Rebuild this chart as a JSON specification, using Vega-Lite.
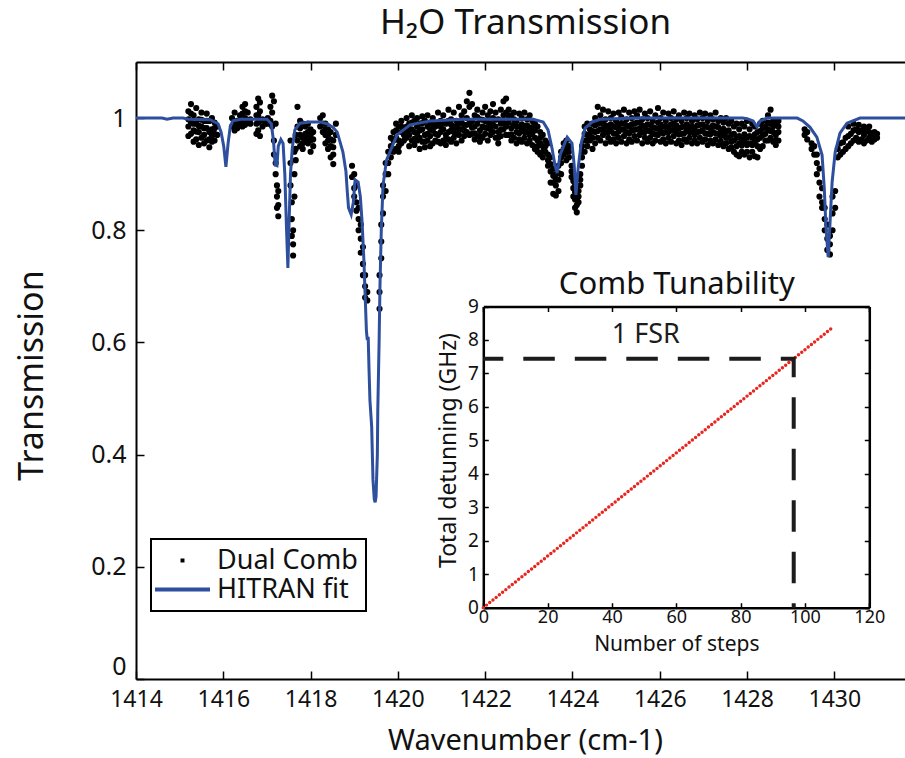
{
  "$schema": "https://vega.github.io/schema/vega-lite/v6.json",
  "width": 769,
  "height": 617,
  "autosize": {"type": "none"},
  "padding": {"left": 136, "top": 62, "right": 0, "bottom": 79},
  "config": {
    "font": "Noto Sans, DejaVu Sans",
    "view": {"stroke": null},
    "axis": {
      "grid": false,
      "labelFlush": false,
      "domainColor": "black",
      "tickColor": "black",
      "labelColor": "#111111",
      "titleColor": "#111111",
      "titleFontWeight": "normal"
    },
    "legend": {"strokeWidth": 2}
  },
  "datasets": {
    "dualComb": [
      {"w":1415.2,"a":1.012,"b":0.985,"c":0.968,"d":0.998},
      {"w":1415.26,"a":1.025,"b":0.992,"c":0.972,"d":1.008},
      {"w":1415.32,"a":1.005,"b":0.978,"c":0.958,"d":0.99},
      {"w":1415.38,"a":1.018,"b":0.99,"c":0.962,"d":0.976},
      {"w":1415.44,"a":0.998,"b":0.975,"c":0.952,"d":0.986},
      {"w":1415.5,"a":1.01,"b":0.985,"c":0.965,"d":0.997},
      {"w":1415.56,"a":0.995,"b":0.97,"c":0.955,"d":0.982},
      {"w":1415.62,"a":1.008,"b":0.982,"c":0.96,"d":0.995},
      {"w":1415.68,"a":0.995,"b":0.975,"c":0.948,"d":0.962},
      {"w":1415.74,"a":1.0,"b":0.98,"c":0.958,"d":0.968},
      {"w":1415.8,"a":0.992,"b":0.972,"c":0.96,"d":0.982},
      {"w":1415.86,"a":0.985,"b":0.97},
      {"w":1416.2,"a":1.0,"b":0.985},
      {"w":1416.26,"a":1.01,"b":0.988,"c":0.978},
      {"w":1416.32,"a":0.995,"b":0.982},
      {"w":1416.38,"a":1.005,"b":0.99},
      {"w":1416.44,"a":1.02,"b":0.995,"c":0.985,"d":1.008},
      {"w":1416.5,"a":1.025,"b":1.0,"c":0.988,"d":1.012},
      {"w":1416.56,"a":1.01,"b":0.992},
      {"w":1416.62,"a":0.998,"b":0.99},
      {"w":1416.76,"a":1.02,"b":0.99,"c":0.972,"d":1.005},
      {"w":1416.8,"a":1.035,"b":1.005,"c":0.978,"d":0.992},
      {"w":1416.84,"a":1.028,"b":0.995,"c":0.968,"d":1.012},
      {"w":1416.9,"a":0.998,"b":0.985},
      {"w":1416.96,"a":0.995,"b":0.99},
      {"w":1417.02,"a":1.0,"b":0.99},
      {"w":1417.08,"a":1.02,"b":0.995},
      {"w":1417.12,"a":1.04,"b":1.01,"c":0.985},
      {"w":1417.16,"a":1.03,"b":0.96,"c":0.935},
      {"w":1417.2,"a":0.99,"b":0.92,"c":0.9},
      {"w":1417.23,"a":0.88,"b":0.86,"c":0.84},
      {"w":1417.26,"a":0.87,"b":0.845,"c":0.825},
      {"w":1417.54,"a":0.96,"b":0.92,"c":0.88},
      {"w":1417.57,"a":0.85,"b":0.82,"c":0.79},
      {"w":1417.6,"a":0.775,"b":0.755,"c":0.8},
      {"w":1417.63,"a":0.86,"b":0.9,"c":0.94},
      {"w":1417.66,"a":0.97,"b":0.945,"c":0.925},
      {"w":1417.7,"a":1.02,"b":0.985,"c":0.96},
      {"w":1417.76,"a":0.995,"b":0.97,"c":0.95,"d":0.982},
      {"w":1417.82,"a":0.99,"b":0.965,"c":0.945,"d":0.955},
      {"w":1417.88,"a":0.985,"b":0.96,"c":0.972},
      {"w":1417.94,"a":0.99,"b":0.975,"c":0.955,"d":0.965},
      {"w":1418.0,"a":0.98,"b":0.96,"c":0.94,"d":0.97},
      {"w":1418.06,"a":0.975,"b":0.95,"c":0.962},
      {"w":1418.22,"a":1.0,"b":0.985},
      {"w":1418.28,"a":1.005,"b":0.99,"c":0.975},
      {"w":1418.34,"a":0.99,"b":0.97,"c":0.955,"d":0.98},
      {"w":1418.4,"a":0.98,"b":0.96,"c":0.945,"d":0.97},
      {"w":1418.46,"a":0.975,"b":0.95,"c":0.93,"d":0.962},
      {"w":1418.52,"a":0.96,"b":0.935,"c":0.918,"d":0.948},
      {"w":1418.58,"a":0.99,"b":0.97},
      {"w":1418.95,"a":0.915,"b":0.895},
      {"w":1419.0,"a":0.9,"b":0.875,"c":0.86},
      {"w":1419.05,"a":0.88,"b":0.85,"c":0.835},
      {"w":1419.1,"a":0.84,"b":0.82,"c":0.8},
      {"w":1419.15,"a":0.81,"b":0.785,"c":0.76},
      {"w":1419.2,"a":0.77,"b":0.74,"c":0.72},
      {"w":1419.25,"a":0.72,"b":0.7,"c":0.68},
      {"w":1419.3,"a":0.69,"b":0.675},
      {"w":1419.58,"a":0.66,"b":0.69,"c":0.72},
      {"w":1419.62,"a":0.75,"b":0.78,"c":0.81},
      {"w":1419.66,"a":0.83,"b":0.86,"c":0.88},
      {"w":1419.72,"a":0.87,"b":0.9,"c":0.92},
      {"w":1419.78,"a":0.9,"b":0.92,"c":0.94},
      {"w":1419.84,"a":0.93,"b":0.95,"c":0.965},
      {"w":1419.9,"a":0.94,"b":0.96,"c":0.975},
      {"w":1419.96,"a":0.99,"b":0.965,"c":0.945,"d":0.978},
      {"w":1420.02,"a":0.985,"b":0.96,"c":0.94,"d":0.95},
      {"w":1420.08,"a":0.995,"b":0.975,"c":0.955,"d":0.985},
      {"w":1420.14,"a":0.98,"b":0.96,"c":0.97},
      {"w":1420.2,"a":1.0,"b":0.985,"c":0.965,"d":0.975},
      {"w":1420.26,"a":0.99,"b":0.97,"c":0.95,"d":0.98},
      {"w":1420.32,"a":1.005,"b":0.98,"c":0.96,"d":0.992},
      {"w":1420.38,"a":0.995,"b":0.975,"c":0.952,"d":0.963},
      {"w":1420.44,"a":1.0,"b":0.985,"c":0.96,"d":0.972},
      {"w":1420.5,"a":0.99,"b":0.965,"c":0.945,"d":0.978},
      {"w":1420.56,"a":1.003,"b":0.98,"c":0.958,"d":0.991},
      {"w":1420.62,"a":0.995,"b":0.97,"c":0.948,"d":0.958},
      {"w":1420.68,"a":1.005,"b":0.985,"c":0.96,"d":0.972},
      {"w":1420.74,"a":0.992,"b":0.968,"c":0.95,"d":0.98},
      {"w":1420.8,"a":1.0,"b":0.978,"c":0.955,"d":0.989},
      {"w":1420.86,"a":0.985,"b":0.96,"c":0.972},
      {"w":1420.92,"a":1.01,"b":0.99,"c":0.97,"d":0.958},
      {"w":1420.98,"a":0.995,"b":0.975,"c":0.955,"d":0.985},
      {"w":1421.04,"a":1.005,"b":0.98,"c":0.96,"d":0.992},
      {"w":1421.1,"a":0.99,"b":0.97,"c":0.952,"d":0.962},
      {"w":1421.16,"a":1.015,"b":0.995,"c":0.975,"d":0.962},
      {"w":1421.22,"a":0.998,"b":0.978,"c":0.958,"d":0.988},
      {"w":1421.28,"a":1.01,"b":0.985,"c":0.965,"d":0.975},
      {"w":1421.34,"a":0.995,"b":0.972,"c":0.955,"d":0.984},
      {"w":1421.4,"a":1.02,"b":0.99,"c":0.97,"d":0.98},
      {"w":1421.46,"a":1.005,"b":0.98,"c":0.96,"d":0.992},
      {"w":1421.52,"a":1.012,"b":0.988,"c":0.968,"d":0.978},
      {"w":1421.58,"a":1.03,"b":1.0,"c":0.975,"d":0.988},
      {"w":1421.64,"a":1.045,"b":1.02,"c":0.99,"d":0.97},
      {"w":1421.7,"a":1.025,"b":0.995,"c":0.972,"d":0.983},
      {"w":1421.76,"a":1.005,"b":0.985,"c":0.962,"d":0.973},
      {"w":1421.82,"a":1.015,"b":0.99,"c":0.968,"d":1.002},
      {"w":1421.88,"a":0.998,"b":0.978,"c":0.958,"d":0.968},
      {"w":1421.94,"a":1.01,"b":0.985,"c":0.965,"d":0.997},
      {"w":1422.0,"a":1.02,"b":0.995,"c":0.972,"d":0.983},
      {"w":1422.06,"a":1.005,"b":0.982,"c":0.96,"d":0.993},
      {"w":1422.12,"a":1.012,"b":0.99,"c":0.97,"d":0.98},
      {"w":1422.18,"a":1.025,"b":1.0,"c":0.975,"d":0.988},
      {"w":1422.24,"a":1.01,"b":0.985,"c":0.965,"d":0.997},
      {"w":1422.3,"a":0.998,"b":0.975,"c":0.955,"d":0.965},
      {"w":1422.36,"a":1.015,"b":0.99,"c":0.968,"d":0.979},
      {"w":1422.42,"a":1.03,"b":1.005,"c":0.98,"d":0.992},
      {"w":1422.48,"a":1.035,"b":1.01,"c":0.985,"d":0.97},
      {"w":1422.54,"a":1.015,"b":0.992,"c":0.97,"d":1.003},
      {"w":1422.6,"a":1.005,"b":0.982,"c":0.96,"d":0.971},
      {"w":1422.66,"a":1.01,"b":0.988,"c":0.965,"d":0.998},
      {"w":1422.72,"a":0.995,"b":0.975,"c":0.955,"d":0.985},
      {"w":1422.78,"a":1.008,"b":0.985,"c":0.962,"d":0.973},
      {"w":1422.84,"a":1.0,"b":0.978,"c":0.958,"d":0.989},
      {"w":1422.9,"a":1.01,"b":0.985,"c":0.965,"d":0.975},
      {"w":1422.96,"a":0.998,"b":0.975,"c":0.955,"d":0.987},
      {"w":1423.02,"a":1.005,"b":0.98,"c":0.96,"d":0.97},
      {"w":1423.08,"a":0.995,"b":0.972,"c":0.952,"d":0.984},
      {"w":1423.14,"a":0.99,"b":0.965,"c":0.945,"d":0.978},
      {"w":1423.2,"a":0.985,"b":0.96,"c":0.94,"d":0.95},
      {"w":1423.26,"a":0.975,"b":0.955,"c":0.935,"d":0.965},
      {"w":1423.32,"a":0.97,"b":0.95,"c":0.93,"d":0.94},
      {"w":1423.38,"a":0.96,"b":0.94,"c":0.95},
      {"w":1423.44,"a":0.955,"b":0.935,"c":0.915,"d":0.925},
      {"w":1423.5,"a":0.93,"b":0.905,"c":0.885,"d":0.918},
      {"w":1423.56,"a":0.91,"b":0.885,"c":0.865,"d":0.897},
      {"w":1423.62,"a":0.9,"b":0.88,"c":0.862,"d":0.89},
      {"w":1423.68,"a":0.915,"b":0.89,"c":0.87,"d":0.902},
      {"w":1423.74,"a":0.94,"b":0.92,"c":0.9,"d":0.93},
      {"w":1423.8,"a":0.955,"b":0.935,"c":0.945},
      {"w":1423.86,"a":0.96,"b":0.94,"c":0.925,"d":0.95},
      {"w":1423.92,"a":0.95,"b":0.93,"c":0.94},
      {"w":1423.98,"a":0.915,"b":0.895,"c":0.905},
      {"w":1424.02,"a":0.9,"b":0.875,"c":0.86,"d":0.888},
      {"w":1424.06,"a":0.88,"b":0.855,"c":0.84,"d":0.868},
      {"w":1424.1,"a":0.865,"b":0.845,"c":0.832,"d":0.855},
      {"w":1424.14,"a":0.87,"b":0.85,"c":0.86},
      {"w":1424.18,"a":0.9,"b":0.88,"c":0.89},
      {"w":1424.22,"a":0.95,"b":0.93,"c":0.915,"d":0.94},
      {"w":1424.28,"a":0.985,"b":0.96,"c":0.94,"d":0.972},
      {"w":1424.34,"a":0.99,"b":0.97,"c":0.95,"d":0.96},
      {"w":1424.4,"a":0.98,"b":0.96,"c":0.97},
      {"w":1424.46,"a":0.99,"b":0.965,"c":0.945,"d":0.977},
      {"w":1424.52,"a":1.0,"b":0.975,"c":0.955,"d":0.987},
      {"w":1424.58,"a":1.02,"b":0.99,"c":0.965,"d":0.977},
      {"w":1424.64,"a":1.005,"b":0.98,"c":0.96,"d":0.992},
      {"w":1424.7,"a":1.015,"b":0.99,"c":0.97,"d":0.98},
      {"w":1424.76,"a":0.998,"b":0.975,"c":0.955,"d":0.987},
      {"w":1424.82,"a":1.012,"b":0.985,"c":0.965,"d":0.975},
      {"w":1424.88,"a":1.0,"b":0.978,"c":0.958,"d":0.989},
      {"w":1424.94,"a":1.008,"b":0.985,"c":0.962,"d":0.973},
      {"w":1425.0,"a":0.995,"b":0.972,"c":0.955,"d":0.984},
      {"w":1425.06,"a":1.01,"b":0.988,"c":0.965,"d":0.976},
      {"w":1425.12,"a":1.002,"b":0.98,"c":0.958,"d":0.991},
      {"w":1425.18,"a":1.015,"b":0.99,"c":0.968,"d":0.979},
      {"w":1425.24,"a":0.998,"b":0.975,"c":0.955,"d":0.987},
      {"w":1425.3,"a":1.01,"b":0.985,"c":0.962,"d":0.973},
      {"w":1425.36,"a":1.0,"b":0.978,"c":0.958,"d":0.989},
      {"w":1425.42,"a":1.012,"b":0.99,"c":0.968,"d":0.979},
      {"w":1425.48,"a":1.005,"b":0.98,"c":0.96,"d":0.992},
      {"w":1425.54,"a":1.015,"b":0.992,"c":0.97,"d":0.981},
      {"w":1425.6,"a":0.998,"b":0.975,"c":0.955,"d":0.987},
      {"w":1425.66,"a":1.008,"b":0.985,"c":0.965,"d":0.975},
      {"w":1425.72,"a":1.0,"b":0.978,"c":0.958,"d":0.989},
      {"w":1425.78,"a":1.012,"b":0.988,"c":0.965,"d":0.976},
      {"w":1425.84,"a":0.995,"b":0.972,"c":0.955,"d":0.984},
      {"w":1425.9,"a":1.005,"b":0.982,"c":0.96,"d":0.971},
      {"w":1425.96,"a":1.018,"b":0.992,"c":0.97,"d":0.981},
      {"w":1426.02,"a":1.0,"b":0.978,"c":0.958,"d":0.989},
      {"w":1426.08,"a":1.01,"b":0.985,"c":0.962,"d":0.973},
      {"w":1426.14,"a":0.995,"b":0.975,"c":0.955,"d":0.985},
      {"w":1426.2,"a":1.008,"b":0.985,"c":0.965,"d":0.975},
      {"w":1426.26,"a":1.0,"b":0.978,"c":0.958,"d":0.989},
      {"w":1426.32,"a":1.012,"b":0.99,"c":0.968,"d":0.979},
      {"w":1426.38,"a":0.998,"b":0.975,"c":0.955,"d":0.987},
      {"w":1426.44,"a":1.005,"b":0.982,"c":0.96,"d":0.971},
      {"w":1426.5,"a":0.995,"b":0.972,"c":0.952,"d":0.984},
      {"w":1426.56,"a":1.01,"b":0.985,"c":0.962,"d":0.973},
      {"w":1426.62,"a":1.0,"b":0.978,"c":0.958,"d":0.989},
      {"w":1426.68,"a":1.008,"b":0.985,"c":0.965,"d":0.975},
      {"w":1426.74,"a":0.995,"b":0.975,"c":0.955,"d":0.985},
      {"w":1426.8,"a":1.005,"b":0.98,"c":0.96,"d":0.97},
      {"w":1426.86,"a":0.998,"b":0.975,"c":0.955,"d":0.987},
      {"w":1426.92,"a":1.01,"b":0.988,"c":0.965,"d":0.976},
      {"w":1426.98,"a":1.0,"b":0.978,"c":0.958,"d":0.989},
      {"w":1427.04,"a":1.008,"b":0.985,"c":0.962,"d":0.973},
      {"w":1427.1,"a":0.995,"b":0.972,"c":0.952,"d":0.984},
      {"w":1427.16,"a":1.005,"b":0.982,"c":0.96,"d":0.971},
      {"w":1427.22,"a":0.998,"b":0.975,"c":0.955,"d":0.987},
      {"w":1427.28,"a":1.01,"b":0.985,"c":0.962,"d":0.973},
      {"w":1427.34,"a":0.995,"b":0.972,"c":0.952,"d":0.984},
      {"w":1427.4,"a":1.0,"b":0.978,"c":0.958,"d":0.968},
      {"w":1427.46,"a":0.992,"b":0.97,"c":0.95,"d":0.981},
      {"w":1427.52,"a":1.0,"b":0.975,"c":0.955,"d":0.965},
      {"w":1427.58,"a":0.99,"b":0.965,"c":0.945,"d":0.978},
      {"w":1427.64,"a":0.995,"b":0.97,"c":0.948,"d":0.958},
      {"w":1427.7,"a":0.985,"b":0.96,"c":0.94,"d":0.972},
      {"w":1427.76,"a":0.99,"b":0.965,"c":0.935,"d":0.95},
      {"w":1427.82,"a":0.98,"b":0.955,"c":0.932,"d":0.968},
      {"w":1427.88,"a":0.99,"b":0.962,"c":0.94,"d":0.951},
      {"w":1427.94,"a":0.985,"b":0.958,"c":0.935,"d":0.971},
      {"w":1428.0,"a":0.995,"b":0.965,"c":0.94,"d":0.952},
      {"w":1428.06,"a":0.98,"b":0.955,"c":0.93,"d":0.968},
      {"w":1428.12,"a":0.99,"b":0.965,"c":0.94,"d":0.952},
      {"w":1428.18,"a":0.985,"b":0.958,"c":0.932,"d":0.971},
      {"w":1428.24,"a":0.975,"b":0.95,"c":0.93,"d":0.962},
      {"w":1428.3,"a":0.99,"b":0.965,"c":0.945,"d":0.977},
      {"w":1428.36,"a":0.995,"b":0.97,"c":0.95,"d":0.982},
      {"w":1428.42,"a":0.985,"b":0.96,"c":0.972},
      {"w":1428.48,"a":1.005,"b":0.98,"c":0.96,"d":0.992},
      {"w":1428.54,"a":1.015,"b":0.99,"c":0.965,"d":0.977},
      {"w":1428.6,"a":0.995,"b":0.975,"c":0.958,"d":0.985},
      {"w":1428.66,"a":0.99,"b":0.97,"c":0.952,"d":0.961},
      {"w":1428.72,"a":0.995,"b":0.975,"c":0.96,"d":0.985},
      {"w":1429.32,"a":0.98,"b":0.97},
      {"w":1429.38,"a":0.975,"b":0.962},
      {"w":1429.48,"a":0.955,"b":0.945},
      {"w":1429.54,"a":0.95,"b":0.935},
      {"w":1429.6,"a":0.935,"b":0.92,"c":0.9},
      {"w":1429.66,"a":0.91,"b":0.885,"c":0.86},
      {"w":1429.72,"a":0.875,"b":0.85,"c":0.84},
      {"w":1429.78,"a":0.84,"b":0.82,"c":0.8},
      {"w":1429.84,"a":0.81,"b":0.785,"c":0.765},
      {"w":1429.9,"a":0.775,"b":0.757,"c":0.79},
      {"w":1429.96,"a":0.8,"b":0.83,"c":0.86},
      {"w":1430.02,"a":0.84,"b":0.87},
      {"w":1430.08,"a":0.93,"b":0.945},
      {"w":1430.14,"a":0.935,"b":0.955},
      {"w":1430.2,"a":0.94,"b":0.957},
      {"w":1430.26,"a":0.945,"b":0.965},
      {"w":1430.32,"a":0.95,"b":0.968,"c":0.985},
      {"w":1430.38,"a":0.955,"b":0.972},
      {"w":1430.44,"a":0.96,"b":0.978,"c":0.99},
      {"w":1430.5,"a":0.965,"b":0.98},
      {"w":1430.56,"a":0.958,"b":0.975,"c":0.988},
      {"w":1430.62,"a":0.962,"b":0.978},
      {"w":1430.68,"a":0.955,"b":0.97,"c":0.985},
      {"w":1430.74,"a":0.96,"b":0.978},
      {"w":1430.8,"a":0.965,"b":0.975,"c":0.985},
      {"w":1430.86,"a":0.958,"b":0.97},
      {"w":1430.92,"a":0.962,"b":0.975},
      {"w":1430.98,"a":0.965,"b":0.972}
    ],
    "hitran": [
      {"w":1414.0,"t":1.0},{"w":1414.6,"t":1.0},{"w":1414.71,"t":0.998},{"w":1414.85,"t":1.0},
      {"w":1415.08,"t":1.0},{"w":1415.2,"t":0.998},{"w":1415.7,"t":0.997},{"w":1415.88,"t":0.99},
      {"w":1415.95,"t":0.975},{"w":1416.01,"t":0.95},{"w":1416.06,"t":0.913},{"w":1416.11,"t":0.955},
      {"w":1416.16,"t":0.985},{"w":1416.22,"t":0.995},{"w":1416.4,"t":0.998},{"w":1417.0,"t":0.998},
      {"w":1417.1,"t":0.99},{"w":1417.15,"t":0.96},{"w":1417.19,"t":0.916},{"w":1417.23,"t":0.915},
      {"w":1417.26,"t":0.95},{"w":1417.32,"t":0.962},{"w":1417.37,"t":0.955},{"w":1417.41,"t":0.9},
      {"w":1417.45,"t":0.8},{"w":1417.48,"t":0.733},{"w":1417.51,"t":0.82},{"w":1417.54,"t":0.9},
      {"w":1417.58,"t":0.946},{"w":1417.64,"t":0.979},{"w":1417.76,"t":0.991},{"w":1418.0,"t":0.993},
      {"w":1418.22,"t":0.993},{"w":1418.38,"t":0.99},{"w":1418.52,"t":0.983},{"w":1418.61,"t":0.975},
      {"w":1418.74,"t":0.94},{"w":1418.81,"t":0.905},{"w":1418.84,"t":0.87},{"w":1418.87,"t":0.84},
      {"w":1418.93,"t":0.828},{"w":1418.98,"t":0.85},{"w":1419.02,"t":0.89},{"w":1419.09,"t":0.886},
      {"w":1419.14,"t":0.86},{"w":1419.18,"t":0.815},{"w":1419.22,"t":0.75},{"w":1419.25,"t":0.685},
      {"w":1419.28,"t":0.62},{"w":1419.3,"t":0.604},{"w":1419.32,"t":0.61},{"w":1419.34,"t":0.55},
      {"w":1419.36,"t":0.497},{"w":1419.4,"t":0.45},{"w":1419.43,"t":0.355},{"w":1419.46,"t":0.32},
      {"w":1419.48,"t":0.315},{"w":1419.5,"t":0.325},{"w":1419.53,"t":0.4},{"w":1419.54,"t":0.48},
      {"w":1419.57,"t":0.6},{"w":1419.59,"t":0.7},{"w":1419.62,"t":0.8},{"w":1419.66,"t":0.88},
      {"w":1419.74,"t":0.925},{"w":1419.82,"t":0.94},{"w":1419.98,"t":0.97},{"w":1420.28,"t":0.988},
      {"w":1420.74,"t":0.995},{"w":1421.5,"t":0.998},{"w":1423.1,"t":0.998},{"w":1423.33,"t":0.993},
      {"w":1423.44,"t":0.979},{"w":1423.53,"t":0.947},{"w":1423.6,"t":0.916},{"w":1423.65,"t":0.902},
      {"w":1423.72,"t":0.935},{"w":1423.88,"t":0.966},{"w":1423.99,"t":0.955},{"w":1424.04,"t":0.916},
      {"w":1424.08,"t":0.863},{"w":1424.13,"t":0.91},{"w":1424.2,"t":0.955},{"w":1424.29,"t":0.982},
      {"w":1424.45,"t":0.993},{"w":1424.63,"t":0.998},{"w":1425.5,"t":1.0},{"w":1427.9,"t":1.0},
      {"w":1428.0,"t":0.999},{"w":1428.14,"t":0.995},{"w":1428.23,"t":0.984},{"w":1428.3,"t":0.995},
      {"w":1428.46,"t":1.0},{"w":1429.15,"t":1.0},{"w":1429.28,"t":0.995},{"w":1429.44,"t":0.984},
      {"w":1429.6,"t":0.966},{"w":1429.72,"t":0.934},{"w":1429.77,"t":0.875},{"w":1429.81,"t":0.804},
      {"w":1429.86,"t":0.752},{"w":1429.9,"t":0.81},{"w":1429.95,"t":0.886},{"w":1430.02,"t":0.939},
      {"w":1430.13,"t":0.973},{"w":1430.29,"t":0.991},{"w":1430.59,"t":1.0},{"w":1431.62,"t":1.0}
    ],
    "tuning": [
      {"n":0,"g":0},{"n":1,"g":0.077},{"n":2,"g":0.154},{"n":3,"g":0.231},{"n":4,"g":0.308},
      {"n":5,"g":0.386},{"n":6,"g":0.463},{"n":7,"g":0.54},{"n":8,"g":0.617},{"n":9,"g":0.694},
      {"n":10,"g":0.771},{"n":11,"g":0.848},{"n":12,"g":0.925},{"n":13,"g":1.002},{"n":14,"g":1.079},
      {"n":15,"g":1.157},{"n":16,"g":1.234},{"n":17,"g":1.311},{"n":18,"g":1.388},{"n":19,"g":1.465},
      {"n":20,"g":1.542},{"n":21,"g":1.619},{"n":22,"g":1.696},{"n":23,"g":1.773},{"n":24,"g":1.85},
      {"n":25,"g":1.928},{"n":26,"g":2.005},{"n":27,"g":2.082},{"n":28,"g":2.159},{"n":29,"g":2.236},
      {"n":30,"g":2.313},{"n":31,"g":2.39},{"n":32,"g":2.467},{"n":33,"g":2.544},{"n":34,"g":2.621},
      {"n":35,"g":2.699},{"n":36,"g":2.776},{"n":37,"g":2.853},{"n":38,"g":2.93},{"n":39,"g":3.007},
      {"n":40,"g":3.084},{"n":41,"g":3.161},{"n":42,"g":3.238},{"n":43,"g":3.315},{"n":44,"g":3.392},
      {"n":45,"g":3.47},{"n":46,"g":3.547},{"n":47,"g":3.624},{"n":48,"g":3.701},{"n":49,"g":3.778},
      {"n":50,"g":3.855},{"n":51,"g":3.932},{"n":52,"g":4.009},{"n":53,"g":4.086},{"n":54,"g":4.163},
      {"n":55,"g":4.241},{"n":56,"g":4.318},{"n":57,"g":4.395},{"n":58,"g":4.472},{"n":59,"g":4.549},
      {"n":60,"g":4.626},{"n":61,"g":4.703},{"n":62,"g":4.78},{"n":63,"g":4.857},{"n":64,"g":4.934},
      {"n":65,"g":5.012},{"n":66,"g":5.089},{"n":67,"g":5.166},{"n":68,"g":5.243},{"n":69,"g":5.32},
      {"n":70,"g":5.397},{"n":71,"g":5.474},{"n":72,"g":5.551},{"n":73,"g":5.628},{"n":74,"g":5.705},
      {"n":75,"g":5.783},{"n":76,"g":5.86},{"n":77,"g":5.937},{"n":78,"g":6.014},{"n":79,"g":6.091},
      {"n":80,"g":6.168},{"n":81,"g":6.245},{"n":82,"g":6.322},{"n":83,"g":6.399},{"n":84,"g":6.476},
      {"n":85,"g":6.554},{"n":86,"g":6.631},{"n":87,"g":6.708},{"n":88,"g":6.785},{"n":89,"g":6.862},
      {"n":90,"g":6.939},{"n":91,"g":7.016},{"n":92,"g":7.093},{"n":93,"g":7.17},{"n":94,"g":7.247},
      {"n":95,"g":7.325},{"n":96,"g":7.402},{"n":97,"g":7.479},{"n":98,"g":7.556},{"n":99,"g":7.633},
      {"n":100,"g":7.71},{"n":101,"g":7.787},{"n":102,"g":7.864},{"n":103,"g":7.941},{"n":104,"g":8.018},
      {"n":105,"g":8.096},{"n":106,"g":8.173},{"n":107,"g":8.25},{"n":108,"g":8.327}
    ],
    "fsr": [
      {"i":1,"n":0,"g":7.44},
      {"i":2,"n":96.5,"g":7.44},
      {"i":3,"n":96.5,"g":0}
    ]
  },
  "layer": [
    {
      "data": {"name": "dualComb"},
      "transform": [
        {"fold": ["a", "b", "c", "d"], "as": ["k", "t"]},
        {"filter": "isValid(datum.t)"}
      ],
      "mark": {"type": "point", "filled": true, "size": 38, "color": "black", "opacity": 1},
      "encoding": {
        "x": {
          "field": "w",
          "type": "quantitative",
          "scale": {"domain": [1414, 1431.62], "nice": false, "zero": false},
          "axis": {
            "orient": "bottom",
            "values": [1414, 1416, 1418, 1420, 1422, 1424, 1426, 1428, 1430],
            "format": "d",
            "domainWidth": 2,
            "tickSize": -8,
            "tickWidth": 1.5,
            "labelFontSize": 23,
            "labelPadding": 17,
            "title": "Wavenumber (cm-1)",
            "titleFontSize": 29,
            "titleX": 389,
            "titleY": 70,
            "titleBaseline": "alphabetic"
          }
        },
        "y": {
          "field": "t",
          "type": "quantitative",
          "scale": {"domain": [0, 1.1], "nice": false},
          "axis": {
            "orient": "left",
            "values": [0, 0.2, 0.4, 0.6, 0.8, 1],
            "format": "~g",
            "domainWidth": 2,
            "tickSize": -8,
            "tickWidth": 1.5,
            "labelFontSize": 25,
            "labelPadding": 18,
            "labelBaseline": {"condition": {"test": "datum.value === 0", "value": "bottom"}, "value": "middle"},
            "title": "Transmission",
            "titleFontSize": 34,
            "titleAngle": -90,
            "titleX": -94,
            "titleY": 313,
            "titleBaseline": "alphabetic"
          }
        }
      }
    },
    {
      "data": {"name": "hitran"},
      "mark": {"type": "line", "strokeWidth": 3, "color": "#2d4f9e"},
      "encoding": {
        "x": {
          "field": "w",
          "type": "quantitative",
          "scale": {"domain": [1414, 1431.62], "nice": false, "zero": false},
          "axis": {
            "orient": "top",
            "values": [1414, 1416, 1418, 1420, 1422, 1424, 1426, 1428, 1430],
            "labels": false,
            "domainWidth": 2,
            "tickSize": -8,
            "tickWidth": 1.5,
            "title": "H₂O Transmission",
            "titleFontSize": 35,
            "titleAngle": 0,
            "titleX": 389,
            "titleY": -29,
            "titleBaseline": "alphabetic"
          }
        },
        "y": {
          "field": "t",
          "type": "quantitative",
          "scale": {"domain": [0, 1.1], "nice": false},
          "axis": null
        }
      }
    },
    {
      "data": {"name": "hitran"},
      "mark": {"type": "point", "filled": true, "strokeWidth": 4, "opacity": 0},
      "encoding": {
        "x": {
          "field": "w",
          "type": "quantitative",
          "scale": {"domain": [1414, 1431.62], "nice": false, "zero": false},
          "axis": null
        },
        "y": {
          "field": "t",
          "type": "quantitative",
          "scale": {"domain": [0, 1.1], "nice": false},
          "axis": null
        },
        "fill": {
          "datum": "Dual Comb",
          "type": "nominal",
          "scale": {"domain": ["Dual Comb", "HITRAN fit"], "range": ["black", "transparent"]},
          "legend": {
            "title": null, "orient": "none", "legendX": 15, "legendY": 477, "direction": "vertical",
            "labelFontSize": 27, "labelColor": "#111111", "labelOffset": 21, "symbolOffset": 10,
            "symbolSize": 121, "symbolOpacity": 1, "symbolStrokeWidth": 4, "strokeColor": "black", "fillColor": "white",
            "padding": 8, "rowPadding": 1
          }
        },
        "stroke": {
          "datum": "Dual Comb",
          "type": "nominal",
          "scale": {"domain": ["Dual Comb", "HITRAN fit"], "range": ["black", "#2d4f9e"]},
          "legend": {
            "title": null, "orient": "none", "legendX": 15, "legendY": 477, "direction": "vertical",
            "labelFontSize": 27, "labelColor": "#111111", "labelOffset": 21, "symbolOffset": 10,
            "symbolSize": 121, "symbolOpacity": 1, "symbolStrokeWidth": 4, "strokeColor": "black", "fillColor": "white",
            "padding": 8, "rowPadding": 1
          }
        },
        "shape": {
          "datum": "Dual Comb",
          "type": "nominal",
          "scale": {"domain": ["Dual Comb", "HITRAN fit"], "range": ["M-0.36,0H0.36", "M-5,0H5"]},
          "legend": {
            "title": null, "orient": "none", "legendX": 15, "legendY": 477, "direction": "vertical",
            "labelFontSize": 27, "labelColor": "#111111", "labelOffset": 21, "symbolOffset": 10,
            "symbolSize": 121, "symbolOpacity": 1, "symbolStrokeWidth": 4, "strokeColor": "black", "fillColor": "white",
            "padding": 8, "rowPadding": 1
          }
        }
      }
    },
    {
      "data": {"name": "tuning"},
      "mark": {"type": "circle", "size": 12, "color": "#e8261f", "opacity": 1},
      "encoding": {
        "x": {
          "field": "n",
          "type": "quantitative",
          "scale": {"domain": [0, 120], "range": [347.3, 733.3], "nice": false, "zero": false},
          "axis": {
            "orient": "bottom",
            "offset": -71.3,
            "values": [0, 20, 40, 60, 80, 100, 120],
            "format": "d",
            "domainWidth": 2.5,
            "tickSize": -5,
            "tickWidth": 1.5,
            "labelFontSize": 18,
            "labelPadding": 6,
            "title": "Number of steps",
            "titleFontSize": 21,
            "titleY": 42.3,
            "titleBaseline": "alphabetic"
          }
        },
        "y": {
          "field": "g",
          "type": "quantitative",
          "scale": {"domain": [0, 9], "range": [545.7, 244.5], "nice": false},
          "axis": {
            "orient": "left",
            "offset": -347.3,
            "values": [0, 1, 2, 3, 4, 5, 6, 7, 8, 9],
            "format": "d",
            "domainWidth": 2.5,
            "tickSize": -5,
            "tickWidth": 1.5,
            "labelFontSize": 19,
            "labelPadding": 10,
            "title": "Total detunning (GHz)",
            "titleFontSize": 23,
            "titleAngle": -90,
            "titleX": -28,
            "titleY": 388,
            "titleBaseline": "alphabetic"
          }
        }
      }
    },
    {
      "data": {"name": "fsr"},
      "mark": {"type": "line", "strokeWidth": 4, "strokeDash": [31.5, 20], "strokeDashOffset": 11.5, "color": "#1c1c1c"},
      "encoding": {
        "x": {
          "field": "n",
          "type": "quantitative",
          "scale": {"domain": [0, 120], "range": [347.3, 733.3], "nice": false, "zero": false},
          "axis": {
            "orient": "top",
            "offset": -244.5,
            "values": [0, 20, 40, 60, 80, 100, 120],
            "labels": false,
            "domainWidth": 2.5,
            "tickSize": -5,
            "tickWidth": 1.5,
            "title": "Comb Tunability",
            "titleFontSize": 31,
            "titleAngle": 0,
            "titleY": -13.5,
            "titleBaseline": "alphabetic"
          }
        },
        "y": {
          "field": "g",
          "type": "quantitative",
          "scale": {"domain": [0, 9], "range": [545.7, 244.5], "nice": false},
          "axis": {
            "orient": "right",
            "offset": -35.7,
            "values": [0, 1, 2, 3, 4, 5, 6, 7, 8, 9],
            "labels": false,
            "domainWidth": 2.5,
            "tickSize": -5,
            "tickWidth": 1.5,
            "title": null
          }
        },
        "order": {"field": "i"}
      }
    },
    {
      "data": {"values": [{"n": 50.5, "g": 8.15, "label": "1 FSR"}]},
      "mark": {"type": "text", "fontSize": 27, "color": "#1c1c1c", "align": "center", "baseline": "middle"},
      "encoding": {
        "x": {
          "field": "n",
          "type": "quantitative",
          "scale": {"domain": [0, 120], "range": [347.3, 733.3], "nice": false, "zero": false},
          "axis": null
        },
        "y": {
          "field": "g",
          "type": "quantitative",
          "scale": {"domain": [0, 9], "range": [545.7, 244.5], "nice": false},
          "axis": null
        },
        "text": {"field": "label"}
      }
    }
  ],
  "resolve": {"scale": {"x": "independent", "y": "independent"}}
}
